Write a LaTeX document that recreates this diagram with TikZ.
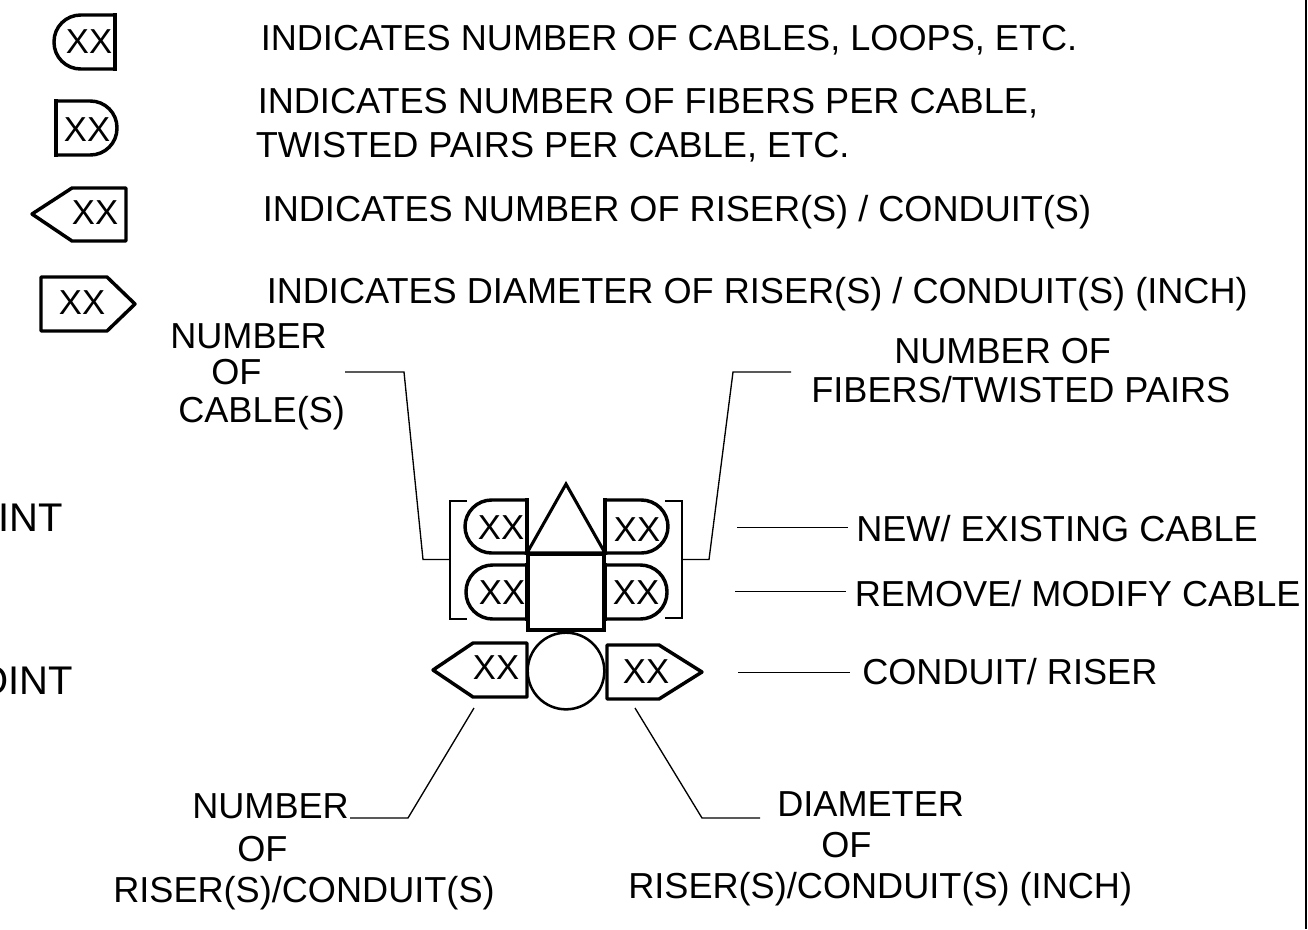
\documentclass[tikz,border=0pt]{standalone}
\usepackage{fontspec}
\setmainfont{Liberation Sans}
\usetikzlibrary{positioning}

\tikzset{
  lbl/.style={anchor=base west,inner sep=0pt,font=\fontsize{27.1}{27.1}\selectfont},
  cutlbl/.style={anchor=base east,inner sep=0pt,font=\fontsize{30}{30}\selectfont},
  xx/.style={inner sep=0pt,font=\fontsize{26}{26}\selectfont},
  tagline/.style={line width=2.6pt,line join=round},
  leader/.style={line width=1pt}
}

% pill: straight side at #1, round side at #2, top #3, bottom #4
\newcommand{\pilltag}[4]{
  \draw[tagline,rounded corners=20pt] (#1,#3) -- (#2,#3) -- (#2,#4) -- (#1,#4);
  \draw[tagline,line cap=rect] (#1,#3) -- (#1,#4);
}

\begin{document}
\begin{tikzpicture}[x=0.75pt,y=-0.75pt]
\useasboundingbox (0,0) rectangle (1308,929);

% key at the top
\pilltag{115}{54}{15}{69}
\pilltag{56}{117}{101}{155}
\draw[tagline] (32,214) -- (72,188) -- (126,188) -- (126,241) -- (72,241) -- cycle;
\draw[tagline] (41,277) -- (107,277) -- (135,304) -- (107,331) -- (41,331) -- cycle;
\foreach \i / \x / \y in {1/89/42,2/87/130,3/95/213,4/82/303}
  \node [xx] (key\i) at (\x,\y) {XX};

\foreach \i / \x / \y / \element in {
    1/260.5/50/{INDICATES NUMBER OF CABLES, LOOPS, ETC.},
    2/257.5/113/{INDICATES NUMBER OF FIBERS PER CABLE,},
    3/255.5/157/{TWISTED PAIRS PER CABLE, ETC.},
    4/262.5/221/{INDICATES NUMBER OF RISER(S) / CONDUIT(S)},
    5/266.5/303/{INDICATES DIAMETER OF RISER(S) / CONDUIT(S) (INCH)}}
  \node [lbl] (text\i) at (\x,\y) {\element};

% cut off by the page edge
\node [cutlbl] (cutA) at (63,531) {INT};
\node [cutlbl] (cutB) at (73,694) {OINT};

% symbol
\draw[line width=2.3pt] (566,484) -- (605,553) -- (527,553) -- cycle;
\node [draw,line width=3pt,minimum size=57.5pt,inner sep=0pt] (square) at (566,592) {};
\node [draw,circle,line width=1.9pt,minimum size=57.5pt,inner sep=0pt] (pipe) at (566,671) {};
\pilltag{527}{465}{500}{553}
\pilltag{527}{466}{565}{619}
\pilltag{605}{668}{500}{553}
\pilltag{605}{667}{565}{619}
\draw[tagline] (433,670) -- (473,643) -- (527,643) -- (527,697) -- (473,697) -- cycle;
\draw[tagline] (607,645) -- (659,645) -- (702,672) -- (659,699) -- (607,699) -- cycle;
\foreach \i / \x / \y in {a/501/528,b/502/593,c/637/530,d/636/593,e/496/668,f/646/672}
  \node [xx] (tag\i) at (\x,\y) {XX};

% brackets
\coordinate (brkL) at (450,559.5);
\coordinate (brkR) at (682,559.5);
\draw[leader] (467,501) -- (450,501) -- (brkL) -- (450,619) -- (467,619);
\draw[leader] (665,501) -- (682,501) -- (brkR) -- (682,618) -- (665,618);

% labels round the symbol
\node [lbl] (cableA) at (170,348) {NUMBER};
\node [lbl] (cableB) at (211,384) {OF};
\node [lbl] (cableC) at (178,422) {CABLE(S)};
\node [lbl] (fiberA) at (894,363.5) {NUMBER OF};
\node [lbl] (fiberB) at (811,402.5) {FIBERS/TWISTED PAIRS};
\node [lbl] (newcable) at (856,541) {NEW/ EXISTING CABLE};
\node [lbl] (modcable) at (854.5,606) {REMOVE/ MODIFY CABLE};
\node [lbl] (conduit) at (862,684) {CONDUIT/ RISER};
\node [lbl] (riserA) at (192,818) {NUMBER};
\node [lbl] (riserB) at (237,861) {OF};
\node [lbl] (riserC) at (113,902) {RISER(S)/CONDUIT(S)};
\node [lbl] (diamA) at (777,816) {DIAMETER};
\node [lbl] (diamB) at (821,857) {OF};
\node [lbl] (diamC) at (628,898) {RISER(S)/CONDUIT(S) (INCH)};

% leaders
\coordinate (cableEnd) at (345,372);
\coordinate (fiberEnd) at (791,372);
\coordinate (riserEnd) at (474,708);
\coordinate (riserTail) at (350,818);
\coordinate (diamEnd) at (635,708);
\coordinate (diamTail) at (760,818);
\draw[leader] (brkL) -- (423,559.5) -- (404,372) -- (cableEnd);
\draw[leader] (brkR) -- (709,559.5) -- (733,372) -- (fiberEnd);
\draw[leader] (riserEnd) -- (408,818) -- (riserTail);
\draw[leader] (diamEnd) -- (702,818) -- (diamTail);
\foreach \a / \b / \y in {737/848/527.5,735/846/591.5,738/850/672.5} {
  \coordinate (ruleA) at (\a,\y);
  \coordinate (ruleB) at (\b,\y);
  \draw[line width=.75pt] (ruleA) -- (ruleB);
}

% edge of the sheet
\coordinate (edgeA) at (1306,0);
\coordinate (edgeB) at (1306,929);
\draw[line width=1.8pt] (edgeA) -- (edgeB);

\end{tikzpicture}
\end{document}
